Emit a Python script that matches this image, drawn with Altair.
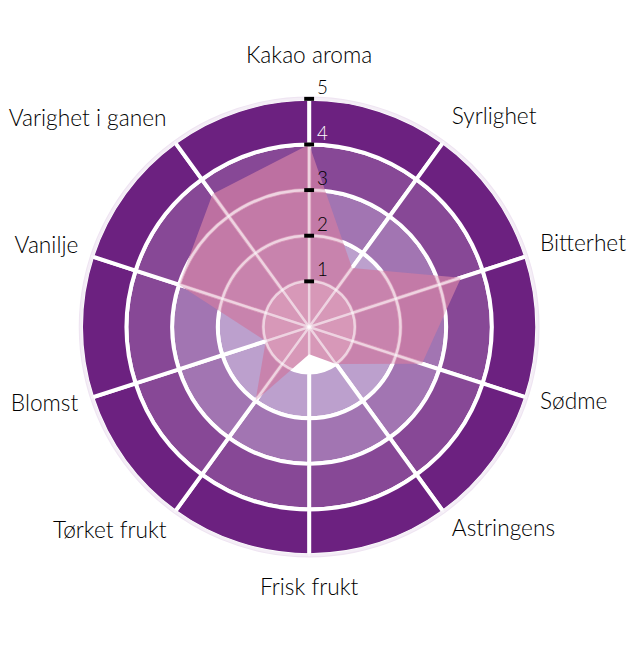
import math
import altair as alt
import pandas as pd

# ---- data ----
attributes = ["Kakao aroma", "Syrlighet", "Bitterhet", "Sødme", "Astringens",
              "Frisk frukt", "Tørket frukt", "Blomst", "Vanilje", "Varighet i ganen"]
scores = [4, 1.6, 3.5, 2.6, 1, 0.6, 2, 1, 3, 3.6]
ring_levels = [1, 2, 3, 4, 5]
ring_colors = ["#ffffff", "#bca0cd", "#a275b2", "#874896", "#6c2180"]
tick_labels = ["1", "2", "3", "4", "5"]

FONT = "Lato"
n = len(attributes)
R_MAX = 6.6          # half of the x / y domain
HALF = 305           # half of the plot size in px
LABEL_R = 5.32       # radius where the category labels sit

XS = alt.Scale(domain=[-R_MAX, R_MAX], nice=False, zero=False)
YS = alt.Scale(domain=[-R_MAX, R_MAX], nice=False, zero=False)
TH = alt.Scale(domain=[0, n], range=[0, 2 * math.pi])
RS = alt.Scale(type="linear", domain=[0, R_MAX], range=[0, HALF], zero=True)

# ring sectors
rows = []
for k, lvl in enumerate(ring_levels):
    for i in range(n):
        rows.append({"t0": i, "t1": i + 1, "r0": lvl - 1, "r1": lvl, "col": ring_colors[k]})
rings = pd.DataFrame(rows)

ring_layer = alt.Chart(rings).mark_arc(stroke="white", strokeWidth=4).encode(
    theta=alt.Theta("t0:Q", stack=None, scale=TH),
    theta2="t1:Q",
    radius=alt.Radius("r0:Q", scale=RS),
    radius2="r1:Q",
    fill=alt.Fill("col:N", scale=None),
)

rim = pd.DataFrame({"t0": [0], "t1": [n], "r0": [ring_levels[-1] - 0.03], "r1": [ring_levels[-1] + 0.05]})
rim_layer = alt.Chart(rim).mark_arc(fill="#efe5f2", strokeWidth=0).encode(
    theta=alt.Theta("t0:Q", stack=None, scale=TH),
    theta2="t1:Q",
    radius=alt.Radius("r0:Q", scale=RS),
    radius2="r1:Q",
)

# polygon
ang = [2 * math.pi * i / n for i in range(n)]
poly = pd.DataFrame({
    "attr": attributes,
    "v": scores,
    "order": list(range(n)),
})
poly["x"] = [v * math.sin(a) for v, a in zip(scores, ang)]
poly["y"] = [v * math.cos(a) for v, a in zip(scores, ang)]

poly_layer = alt.Chart(poly).mark_line(
    interpolate="linear-closed", fill="#cc7ba4", fillOpacity=0.78,
    stroke="#cc7ba4", strokeOpacity=0, strokeWidth=0,
).encode(
    x=alt.X("x:Q", scale=XS, axis=None),
    y=alt.Y("y:Q", scale=YS, axis=None),
    order="order:Q",
)

grid_layer = alt.Chart(rings).mark_arc(
    fill="white", fillOpacity=0, stroke="white", strokeOpacity=0.35, strokeWidth=2.5
).encode(
    theta=alt.Theta("t0:Q", stack=None, scale=TH),
    theta2="t1:Q",
    radius=alt.Radius("r0:Q", scale=RS),
    radius2="r1:Q",
)

# ticks on the top axis
ticks = pd.DataFrame({"lvl": ring_levels, "lab": tick_labels, "x": [0] * len(ring_levels)})
tick_layer = alt.Chart(ticks).mark_tick(orient="horizontal", size=10, thickness=4, color="black", opacity=1).encode(
    x=alt.X("x:Q", scale=XS, axis=None),
    y=alt.Y("lvl:Q", scale=YS, axis=None),
)
tick_text = alt.Chart(ticks).mark_text(
    align="left", baseline="alphabetic", dx=8, dy=-5, fontSize=19, font=FONT, fontWeight=300
).encode(
    x=alt.X("x:Q", scale=XS, axis=None),
    y=alt.Y("lvl:Q", scale=YS, axis=None),
    text="lab:N",
    color=alt.condition("datum.lvl == 4", alt.value("white"), alt.value("black")),
)

# category labels
label_layers = []
for name, a in zip(attributes, ang):
    s, c = math.sin(a), math.cos(a)
    if abs(s) < 1e-6:
        align = "center"
        dy = -29 if c > 0 else 19
    else:
        align = "left" if s > 0 else "right"
        dy = round(-4 - 12 * c) + (2 if s < 0 else 0)
    d = pd.DataFrame({"name": [name], "x": [LABEL_R * s], "y": [LABEL_R * c]})
    label_layers.append(
        alt.Chart(d).mark_text(align=align, baseline="middle", dy=dy, fontSize=23,
                               font=FONT, fontWeight=300, color="black").encode(
            x=alt.X("x:Q", scale=XS, axis=None),
            y=alt.Y("y:Q", scale=YS, axis=None),
            text="name:N",
        )
    )

chart = alt.layer(
    ring_layer, rim_layer, poly_layer, grid_layer, tick_layer, tick_text, *label_layers
).properties(
    width=2 * HALF, height=2 * HALF,
    background="white",
    autosize=alt.AutoSizeParams(type="none"),
    padding={"left": 0, "top": 14, "right": 22, "bottom": 10},
).configure_view(strokeWidth=0, stroke="transparent")

chart.save("out.html", embed_options={"renderer": "svg", "actions": False})
